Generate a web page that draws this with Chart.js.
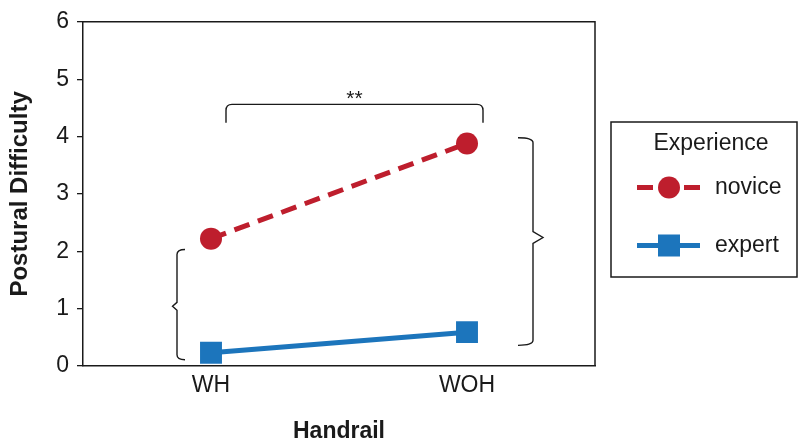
<!DOCTYPE html>
<html>
<head>
<meta charset="utf-8">
<script src="https://cdn.jsdelivr.net/npm/chart.js@4"></script>
<style>
  html, body { margin: 0; padding: 0; background: #fff; }
  #wrap { width: 803px; height: 438px; position: relative; }
</style>
</head>
<body>
<div id="wrap"><canvas id="c" width="803" height="438"></canvas></div>
<script>
// ---- data ----
const categories = ['WH', 'WOH'];
const noviceValues = [2.22, 3.88];
const expertValues = [0.23, 0.59];
const yTicks = [0, 1, 2, 3, 4, 5, 6];
const legendTitle = 'Experience';
const seriesNames = ['novice', 'expert'];
const xTitle = 'Handrail';
const yTitle = 'Postural Difficulty';
const sigLabel = '**';
// bracket annotations in data units
const sigBracket = { from: 0, to: 1, yTop: 4.56, yLeg: 4.24 };
const leftBrace = { cat: 0, yTop: 2.03, yBottom: 0.11, yTip: 1.04 };
const rightBrace = { cat: 1, yTop: 3.98, yBottom: 0.36, yTip: 2.24 };

const RED = '#BE1E2D';
const BLUE = '#1C75BC';
const INK = '#1a1a1a';
const FONT = '"Liberation Sans", Arial, sans-serif';

const annotations = {
  id: 'annotations',
  afterDraw(chart) {
    const ctx = chart.ctx;
    const x = chart.scales.x, y = chart.scales.y;
    const a = chart.chartArea;
    ctx.save();
    // frame top & right
    ctx.strokeStyle = INK;
    ctx.lineWidth = 1.5;
    ctx.beginPath();
    ctx.moveTo(a.left, a.top);
    ctx.lineTo(a.right, a.top);
    ctx.lineTo(a.right, a.bottom);
    ctx.stroke();

    ctx.lineWidth = 1.4;
    ctx.strokeStyle = INK;
    // significance bracket
    const bx1 = x.getPixelForValue(sigBracket.from) + 15;
    const bx2 = x.getPixelForValue(sigBracket.to) + 16;
    const byT = y.getPixelForValue(sigBracket.yTop);
    const byL = y.getPixelForValue(sigBracket.yLeg);
    const r = 6;
    ctx.beginPath();
    ctx.moveTo(bx1, byL);
    ctx.lineTo(bx1, byT + r);
    ctx.quadraticCurveTo(bx1, byT, bx1 + r, byT);
    ctx.lineTo(bx2 - r, byT);
    ctx.quadraticCurveTo(bx2, byT, bx2, byT + r);
    ctx.lineTo(bx2, byL);
    ctx.stroke();
    ctx.fillStyle = INK;
    ctx.font = '21px ' + FONT;
    ctx.textAlign = 'center';
    ctx.textBaseline = 'middle';
    ctx.fillText(sigLabel, (bx1 + bx2) / 2, byT - 5);

    // curly braces
    function brace(xLine, dir, yTop, yBot, yTip, hook, tipLen, tipHalf) {
      const h = hook * dir;
      const t = -tipLen * dir;
      const rr = 5;
      ctx.beginPath();
      ctx.moveTo(xLine + h, yTop);
      ctx.quadraticCurveTo(xLine, yTop, xLine, yTop + rr);
      ctx.lineTo(xLine, yTip - tipHalf);
      ctx.lineTo(xLine + t, yTip);
      ctx.lineTo(xLine, yTip + tipHalf);
      ctx.lineTo(xLine, yBot - rr);
      ctx.quadraticCurveTo(xLine, yBot, xLine + h, yBot);
      ctx.stroke();
    }
    brace(x.getPixelForValue(leftBrace.cat) - 34, 1,
      y.getPixelForValue(leftBrace.yTop), y.getPixelForValue(leftBrace.yBottom), y.getPixelForValue(leftBrace.yTip), 8, 4.5, 4);
    brace(x.getPixelForValue(rightBrace.cat) + 66, -1,
      y.getPixelForValue(rightBrace.yTop), y.getPixelForValue(rightBrace.yBottom), y.getPixelForValue(rightBrace.yTip), 15, 10, 6);

    // legend box
    const lx = 611, ly = 122, lw = 186, lh = 155;
    ctx.lineWidth = 1.5;
    ctx.strokeStyle = INK;
    ctx.strokeRect(lx, ly, lw, lh);
    ctx.fillStyle = INK;
    ctx.font = '23px ' + FONT;
    ctx.textAlign = 'center';
    ctx.textBaseline = 'middle';
    ctx.fillText(legendTitle, 711, 144);

    const ds = chart.data.datasets;
    // novice
    const y1 = 187.5;
    ctx.strokeStyle = ds[0].borderColor;
    ctx.lineWidth = 5;
    ctx.beginPath();
    ctx.moveTo(637, y1); ctx.lineTo(653, y1);
    ctx.moveTo(684, y1); ctx.lineTo(700, y1);
    ctx.stroke();
    ctx.fillStyle = ds[0].backgroundColor;
    ctx.beginPath();
    ctx.arc(669, y1, 11, 0, Math.PI * 2);
    ctx.fill();
    // expert
    const y2 = 245.5;
    ctx.strokeStyle = ds[1].borderColor;
    ctx.beginPath();
    ctx.moveTo(637, y2); ctx.lineTo(700, y2);
    ctx.stroke();
    ctx.fillStyle = ds[1].backgroundColor;
    ctx.fillRect(658, y2 - 11, 22, 22);

    ctx.fillStyle = INK;
    ctx.textAlign = 'left';
    ctx.fillText(ds[0].label, 715, y1);
    ctx.fillText(ds[1].label, 715, y2);
    ctx.restore();
  }
};

new Chart(document.getElementById('c'), {
  type: 'line',
  data: {
    labels: categories,
    datasets: [
      {
        label: seriesNames[0],
        data: noviceValues,
        borderColor: RED,
        backgroundColor: RED,
        borderWidth: 5,
        borderDash: [16, 9],
        pointStyle: 'circle',
        pointRadius: 11,
        pointBorderWidth: 0,
        pointHoverRadius: 11
      },
      {
        label: seriesNames[1],
        data: expertValues,
        borderColor: BLUE,
        backgroundColor: BLUE,
        borderWidth: 5,
        pointStyle: 'rect',
        pointRadius: 15.5,
        pointBorderWidth: 0,
        pointHoverRadius: 15.5
      }
    ]
  },
  options: {
    responsive: false,
    animation: false,
    events: [],
    layout: { padding: { top: 20, right: 208, left: 0, bottom: 0 } },
    plugins: { legend: { display: false }, tooltip: { enabled: false } },
    scales: {
      x: {
        type: 'category',
        offset: true,
        grid: { display: false, drawTicks: false },
        border: { display: true, color: INK, width: 1.5 },
        ticks: { color: INK, font: { family: FONT, size: 23 }, padding: 6 },
        title: { display: true, text: xTitle, color: INK, font: { family: FONT, size: 23, weight: 'bold' }, padding: { top: 0, bottom: -7 } },
        afterFit(s) { s.height = 72; }
      },
      y: {
        min: 0, max: 6,
        afterBuildTicks(s) { s.ticks = yTicks.map(v => ({ value: v })); },
        grid: { display: true, drawOnChartArea: false, drawTicks: true, tickLength: 6, color: INK, lineWidth: 1.3 },
        border: { display: true, color: INK, width: 1.5 },
        ticks: { color: INK, font: { family: FONT, size: 23 }, padding: 8 },
        title: { display: true, text: yTitle, color: INK, font: { family: FONT, size: 24, weight: 'bold' }, padding: { top: 6, bottom: 0 } },
        afterFit(s) { s.width = 83; }
      }
    }
  },
  plugins: [annotations]
});
</script>
</body>
</html>
